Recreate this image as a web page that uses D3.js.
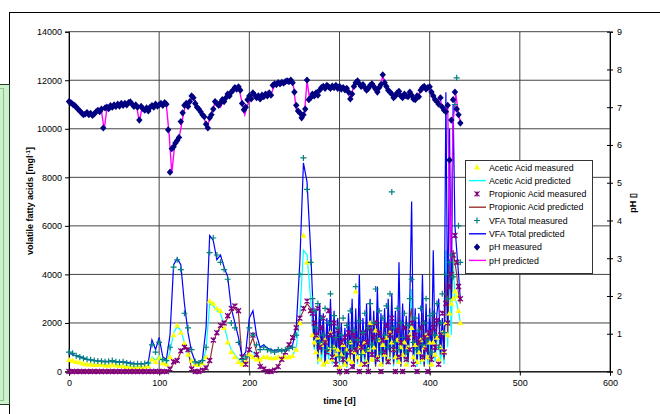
<!DOCTYPE html>
<html lang="en">
<head>
<meta charset="utf-8">
<script src="https://d3js.org/d3.v7.min.js"></script>
<style>
  body { margin: 0; background: #fff; }
  svg text { font-family: "Liberation Sans", Arial, sans-serif; fill: #000; }
</style>
</head>
<body>
<svg width="660" height="414"></svg>
<script>
// ---- data ----
var days = [0,4,8,12,16,20,24,28,32,36,40,44,48,52,56,60,64,68,72,76,80,84,88,92,96,100,104,108,112,116,120,124,128,132,136,140,144,148,152,156,160,164,168,172,176,180,184,188,192,196,200,204,208,212,216,220,224,228,232,236,240,244,248,252,256,260,264,268,
  270,272,274,276,278,280,282,284,286,288,290,292,294,296,298,300,302,304,306,308,310,312,314,316,318,320,322,324,326,328,330,332,334,336,338,340,342,344,346,348,350,352,354,356,358,360,362,364,366,368,370,372,374,376,378,380,382,384,386,388,390,392,394,396,398,400,402,404,406,408,410,412,414,416,418,420,422,424,426,428,430,432,434];

var acMeasured = [480,450,400,380,330,300,300,280,280,300,260,250,300,260,250,220,200,200,180,200,180,200,220,500,400,550,350,300,600,1500,1900,1600,1150,700,450,300,280,350,600,2900,2800,2600,2500,1800,1200,800,600,400,300,400,700,600,500,500,600,600,550,550,600,550,600,600,650,900,2000,5600,4500,2500,
  1500,1200,800,1400,500,1100,300,1300,400,900,1600,500,1000,700,900,200,700,1100,300,900,500,1200,400,800,3300,600,1000,300,800,1200,400,900,2000,500,1000,1700,600,1300,300,1100,700,1400,500,1600,1200,900,600,1300,400,1000,700,1200,300,1000,1500,1800,600,1100,400,800,1300,500,1000,1500,600,1200,300,1200,700,1400,500,1000,1600,800,2000,1500,2400,2800,3000,3300,3100,2500,2000];
var acPredicted = [450,420,380,360,330,300,290,280,270,270,260,250,250,250,240,230,220,210,200,200,190,190,220,600,450,650,350,300,800,1600,1850,1700,1200,650,400,300,280,350,900,2800,2700,2500,2400,1900,1300,900,700,500,300,400,900,800,600,500,600,550,550,550,560,560,580,600,650,1000,2300,5000,4800,3000,
  1800,900,1400,300,1500,400,1300,200,1100,500,1700,300,1300,200,1200,300,1000,200,900,150,1200,400,1500,100,1400,300,2000,200,1100,300,1400,100,1500,400,1200,200,1700,400,1200,200,1300,300,1500,400,1600,200,1200,300,2200,200,1400,400,1100,300,1500,3400,300,1300,200,1200,300,2000,200,1400,300,1300,200,2500,400,1200,1500,400,1100,300,5000,1000,4500,1500,4800,3000,2800,2500,2000];
var prMeasured = [0,0,0,0,0,0,0,0,0,0,0,0,0,0,0,0,0,0,0,0,0,0,0,0,0,0,0,0,100,400,450,850,1000,900,100,0,0,50,150,450,1300,1600,1900,2000,2300,2600,2700,2500,600,300,900,1500,700,200,100,0,0,50,200,500,800,1100,1400,1800,2200,2600,2900,2500,
  2400,2000,1500,2600,1000,1800,2200,1200,800,2500,1500,600,2000,300,1700,0,1200,500,1400,0,1600,800,200,1500,900,1300,0,1000,1600,300,1200,0,1800,700,1400,2000,500,1600,0,1300,800,1900,400,1500,2200,900,0,1700,600,1200,0,1800,500,1400,900,2000,300,1500,0,1200,1800,600,1400,900,0,1600,500,1800,1000,2100,300,1500,2400,800,2800,2000,3500,4000,4800,5600,4500,3500,3000];
var prPredicted = [0,0,0,0,0,0,0,0,0,0,0,0,0,0,0,0,0,0,0,0,0,0,0,0,0,0,0,0,50,350,450,800,1000,950,50,0,0,0,100,400,1200,1600,1850,2000,2200,2500,2600,2400,500,300,1000,1400,800,300,100,50,50,100,250,500,800,1100,1400,1800,2200,2500,2800,2600,
  2500,1000,2200,500,2400,700,2000,300,1900,800,2600,400,2100,200,1800,400,1600,300,1500,200,2000,500,2200,100,1900,400,2600,300,1700,500,2000,100,2200,600,1800,200,2400,600,1700,300,1900,400,2100,600,2300,300,1800,500,2500,200,2000,500,1700,400,2200,2600,400,1900,300,1700,400,2400,200,2000,500,1900,300,2500,600,1800,2200,700,1700,500,4000,1500,4500,3000,5000,4500,4000,3200,2800];
var vfaMeasured = [800,750,650,600,550,500,480,450,430,420,400,420,450,400,380,400,350,330,300,320,300,330,350,1100,800,1200,500,450,1000,4300,4600,4200,2400,1800,900,400,350,450,1000,4900,5500,4800,4500,4200,3800,2000,1800,1200,500,600,1800,1500,1100,900,1000,900,850,800,900,850,900,950,1000,1500,4000,8800,7500,4500,
  3000,2500,1800,2800,1200,2200,1500,2600,900,2000,3200,1000,2300,1400,1800,600,1500,2200,800,1900,1200,2500,1000,1700,3500,1300,2100,700,1600,2400,900,1800,2800,1100,2000,3400,1300,2500,800,2200,1500,2700,1000,3200,7400,1800,1200,2600,900,2000,1400,2400,800,1900,3000,3800,1200,2200,900,1700,2600,1100,2000,3000,1300,2300,800,2400,1500,2800,1000,2000,3200,1600,4000,3000,4500,4800,3900,11000,12100,6000,4500];
var vfaPredicted = [750,700,650,600,550,500,480,460,440,430,420,410,420,410,400,390,380,360,340,330,320,320,400,1300,900,1400,600,500,1500,4400,4650,4400,2800,1600,800,400,350,500,1800,5600,5400,4600,4800,4300,3900,2600,2000,1400,600,800,2200,2500,1500,1000,1100,950,900,850,850,850,900,950,1100,1800,4500,8600,7800,5000,
  3200,1200,2600,600,2800,800,2400,400,2200,900,3000,500,2500,300,2200,600,2000,400,1800,300,2400,700,3000,200,2600,500,4000,300,2200,600,2800,200,3000,800,2500,300,3500,700,2400,400,2600,500,3000,800,3200,400,2500,600,4500,300,2800,700,2300,500,3000,7000,600,2600,400,2400,500,4000,300,2800,600,2600,400,5000,700,2400,3000,800,2200,600,11500,2000,10000,3000,11000,6000,5000,4000,3000];

// pH measured every second day
var phDays = [0,2,4,6,8,10,12,14,16,18,20,22,24,26,28,30,32,34,36,38,40,42,44,46,48,50,52,54,56,58,60,62,64,66,68,70,72,74,76,78,80,82,84,86,88,90,92,94,96,98,
  100,102,104,106,108,110,112,114,116,118,120,122,124,126,128,130,132,134,136,138,140,142,144,146,148,150,152,154,156,158,160,162,164,166,168,170,172,174,176,178,180,182,184,186,188,190,192,194,196,198,
  200,202,204,206,208,210,212,214,216,218,220,222,224,226,228,230,232,234,236,238,240,242,244,246,248,250,252,254,256,258,260,262,264,266,268,270,272,274,276,278,280,282,284,286,288,290,292,294,296,298,
  300,302,304,306,308,310,312,314,316,318,320,322,324,326,328,330,332,334,336,338,340,342,344,346,348,350,352,354,356,358,360,362,364,366,368,370,372,374,376,378,380,382,384,386,388,390,392,394,396,398,
  400,402,404,406,408,410,412,414,416,418,420,422,424,426,428,430,432,434];
var phMeasured = [7.15,7.12,7.08,7.05,7.00,6.95,6.90,6.85,6.80,6.82,
  6.86,6.80,6.84,6.78,6.82,6.88,6.92,6.88,6.95,6.45,
  6.98,7.00,6.96,7.04,7.00,7.06,7.02,7.08,7.03,7.10,
  7.05,7.10,7.06,7.12,7.14,7.08,7.02,7.06,7.00,6.66,
  7.02,6.96,6.92,6.98,6.90,7.00,7.04,7.00,7.08,7.03,
  7.06,7.10,7.05,7.12,7.08,6.40,5.28,5.90,5.95,6.05,
  6.12,6.20,6.62,6.85,7.05,7.10,7.02,7.15,7.30,7.25,
  7.10,7.00,6.95,6.88,6.80,6.75,6.55,6.45,6.72,6.80,
  6.95,7.15,7.10,7.05,7.12,7.20,7.15,7.25,7.35,7.30,
  7.40,7.45,7.52,7.48,7.54,7.45,7.10,6.93,7.00,7.20,
  7.30,7.22,7.38,7.32,7.25,7.30,7.22,7.32,7.28,7.35,
  7.30,7.38,7.32,7.58,7.62,7.60,7.65,7.62,7.66,7.64,
  7.68,7.70,7.68,7.72,7.65,7.40,7.05,6.90,6.85,6.72,
  6.80,6.95,7.72,7.20,7.25,7.35,7.30,7.38,7.32,7.45,
  7.52,7.55,7.50,7.58,7.54,7.50,7.56,7.52,7.58,7.50,
  7.55,7.48,7.52,7.46,7.50,7.40,7.22,7.35,7.55,7.65,
  7.70,7.62,7.55,7.60,7.52,7.45,7.50,7.58,7.62,7.55,
  7.48,7.40,7.52,7.60,7.86,7.65,7.55,7.45,7.40,7.35,
  7.25,7.30,7.38,7.42,7.30,7.25,7.35,7.30,7.28,7.40,
  7.32,7.22,7.20,7.30,7.28,7.45,7.52,7.55,7.48,7.52,
  7.54,7.40,7.30,7.20,7.15,7.08,7.25,7.00,6.92,6.88,
  7.05,5.60,6.66,7.20,7.40,6.95,6.80,6.58];

// pH model output every third day
var phPredDays = [0,3,6,9,12,15,18,21,24,27,30,33,36,39,42,45,48,51,54,57,60,63,66,69,72,75,78,81,84,87,90,93,96,99,102,105,108,111,114,117,120,123,126,129,132,135,138,141,144,147,150,153,156,159,162,165,168,171,174,177,180,183,186,189,192,195,198,201,204,207,210,213,216,219,222,225,228,231,234,237,240,243,246,249,252,255,258,261,264,267,270,273,276,279,282,285,288,291,294,297,300,303,306,309,312,315,318,321,324,327,330,333,336,339,342,345,348,351,354,357,360,363,366,369,372,375,378,381,384,387,390,393,396,399,402,405,408,411,414,417,420,423,426,429,432,435];
var phPredicted = [7.12,7.08,7.04,7.00,6.92,6.84,6.82,6.85,6.84,6.82,6.88,6.93,6.90,6.40,6.96,7.00,7.04,7.02,7.06,7.04,7.08,7.06,7.10,7.12,7.02,7.04,6.60,7.00,6.96,6.94,7.00,7.04,7.06,7.04,7.08,7.10,7.05,6.30,5.25,5.95,6.10,6.30,6.70,7.05,7.05,7.18,7.30,7.05,6.95,6.82,6.72,6.40,6.72,6.90,7.12,7.10,7.00,7.16,7.28,7.36,7.45,7.52,7.50,7.46,7.10,6.80,7.05,7.20,7.36,7.30,7.24,7.30,7.26,7.34,7.30,7.40,7.58,7.62,7.64,7.62,7.66,7.70,7.70,7.55,6.95,6.85,6.72,6.80,7.70,7.20,7.25,7.36,7.35,7.48,7.54,7.52,7.56,7.50,7.54,7.55,7.52,7.48,7.54,7.45,7.20,7.50,7.64,7.68,7.55,7.58,7.45,7.50,7.60,7.55,7.40,7.55,7.82,7.60,7.45,7.35,7.20,7.30,7.38,7.25,7.34,7.28,7.38,7.30,7.20,7.25,7.48,7.54,7.48,7.52,7.30,7.20,7.10,7.28,7.00,6.90,7.00,2.90,6.60,7.35,6.80,6.55];

var xTicks = [0,100,200,300,400,500,600];
var yTicks = [0,2000,4000,6000,8000,10000,12000,14000];
var phTicks = [0,1,2,3,4,5,6,7,8,9];
var legendLabels = ["Acetic Acid measured","Acetic Acid predicted","Propionic Acid measured","Propionic Acid predicted","VFA Total measured","VFA Total predicted","pH measured","pH predicted"];

// ---- layout ----
var svg = d3.select("svg");
var x = d3.scaleLinear().domain([0, 600]).range([69, 610]);
var y = d3.scaleLinear().domain([0, 14000]).range([371.5, 31.7]);
var y2 = d3.scaleLinear().domain([0, 9]).range([371.5, 31.7]);

// outer chart frame + green box on the left
svg.append("rect").attr("x", 9.5).attr("y", 12.5).attr("width", 700).attr("height", 500)
  .attr("fill", "#fff").attr("stroke", "#000");
svg.append("rect").attr("x", -10).attr("y", 84.5).attr("width", 19.5).attr("height", 320)
  .attr("fill", "#ccf2cc").attr("stroke", "#2a3a2a");
svg.append("rect").attr("x", -10).attr("y", 88.5).attr("width", 13.5).attr("height", 312)
  .attr("fill", "none").attr("stroke", "#8fbf8f");

// grid
var grid = svg.append("g").attr("stroke", "#444").attr("stroke-width", 1);
grid.selectAll(".h").data(yTicks).enter().append("line")
  .attr("x1", x(0)).attr("x2", x(600)).attr("y1", function (d) { return y(d); }).attr("y2", function (d) { return y(d); });
grid.selectAll(".v").data(xTicks).enter().append("line")
  .attr("y1", y(0)).attr("y2", y(14000)).attr("x1", function (d) { return x(d); }).attr("x2", function (d) { return x(d); });

// axes
var gx = svg.append("g").attr("transform", "translate(0," + y(0) + ")")
  .call(d3.axisBottom(x).tickValues(xTicks).tickSize(4).tickPadding(4).tickFormat(d3.format("d")));
var gy = svg.append("g").attr("transform", "translate(" + x(0) + ",0)")
  .call(d3.axisLeft(y).tickValues(yTicks).tickSize(4).tickPadding(3).tickFormat(d3.format("d")));
var gy2 = svg.append("g").attr("transform", "translate(" + x(600) + ",0)")
  .call(d3.axisRight(y2).tickValues(phTicks).tickSize(3).tickPadding(4));
gy2.selectAll(".tick line").attr("x1", -3);
[gx, gy, gy2].forEach(function (g) {
  g.select(".domain").attr("stroke", "#000");
  g.selectAll(".tick line").attr("stroke", "#000");
  g.selectAll("text").attr("font-size", "9px").attr("font-family", "Liberation Sans, Arial, sans-serif").attr("fill", "#000");
});

// axis titles
svg.append("text").attr("x", x(300)).attr("y", 404).attr("text-anchor", "middle")
  .attr("font-size", "9px").attr("font-weight", "bold").text("time [d]");
var lt = svg.append("text").attr("transform", "translate(33,201) rotate(-90)").attr("text-anchor", "middle")
  .attr("font-size", "9px").attr("font-weight", "bold");
lt.append("tspan").text("volatile fatty acids  [mgl");
lt.append("tspan").attr("dy", -3).attr("font-size", "6px").text("-1");
lt.append("tspan").attr("dy", 3).text("]");
svg.append("text").attr("transform", "translate(636,203) rotate(-90)").attr("text-anchor", "middle")
  .attr("font-size", "9px").attr("font-weight", "bold").text("pH \u25AF");

// ---- series ----
function pts(xs, ys) { return d3.zip(xs, ys); }
var line = d3.line().x(function (d) { return x(d[0]); }).y(function (d) { return y(d[1]); });
var line2 = d3.line().x(function (d) { return x(d[0]); }).y(function (d) { return y2(d[1]); });

var lines = [
  { v: acPredicted, c: "#00ffff" },
  { v: prPredicted, c: "#993333" },
  { v: vfaPredicted, c: "#0000ff" }
];
lines.forEach(function (s) {
  svg.append("path").datum(pts(days, s.v)).attr("d", line)
    .attr("fill", "none").attr("stroke", s.c).attr("stroke-width", 1.2);
});
svg.append("path").datum(pts(phPredDays, phPredicted)).attr("d", line2)
  .attr("fill", "none").attr("stroke", "#ff00ff").attr("stroke-width", 1.4);

// marker shapes
var tri = "M0,-3L3,2.2L-3,2.2Z";
var cross = "M-2.5,-2.5L2.5,2.5M-2.5,2.5L2.5,-2.5M0,-2.5L0,-1M0,2.5L0,1";
var plus = "M-3,0L3,0M0,-3L0,3";
var diamond = "M0,-3.6L3.2,0L0,3.6L-3.2,0Z";

function markers(xs, ys, scale, path, fill, stroke, sw) {
  svg.append("g").selectAll("path").data(pts(xs, ys)).enter().append("path")
    .attr("transform", function (d) { return "translate(" + x(d[0]) + "," + scale(d[1]) + ")"; })
    .attr("d", path).attr("fill", fill).attr("stroke", stroke).attr("stroke-width", sw);
}
markers(days, acMeasured, y, tri, "#ffff00", "none", 0);
markers(days, prMeasured, y, cross, "none", "#800080", 1.3);
markers(days, vfaMeasured, y, plus, "none", "#008080", 1.2);
markers(phDays, phMeasured, y2, diamond, "#000080", "none", 0);

// ---- legend ----
var leg = svg.append("g");
leg.append("rect").attr("x", 465.5).attr("y", 160.5).attr("width", 127).attr("height", 113)
  .attr("fill", "#fff").attr("stroke", "#333");
var legColors = ["#ffff00", "#00ffff", "#800080", "#993333", "#008080", "#0000ff", "#000080", "#ff00ff"];
legendLabels.forEach(function (lab, i) {
  var ly = 167.3 + i * 13.3;
  if (i % 2 === 1) {
    leg.append("line").attr("x1", 469).attr("x2", 486).attr("y1", ly).attr("y2", ly)
      .attr("stroke", legColors[i]).attr("stroke-width", 1.4);
  } else {
    var shape = [tri, cross, plus, diamond][i / 2];
    var filled = (i === 0 || i === 6);
    leg.append("path").attr("transform", "translate(477," + ly + ")").attr("d", shape)
      .attr("fill", filled ? legColors[i] : "none").attr("stroke", filled ? "none" : legColors[i])
      .attr("stroke-width", 1.2);
  }
  leg.append("text").attr("x", 489).attr("y", ly + 3.2).attr("font-size", "8.8px").text(lab);
});
</script>
</body>
</html>
